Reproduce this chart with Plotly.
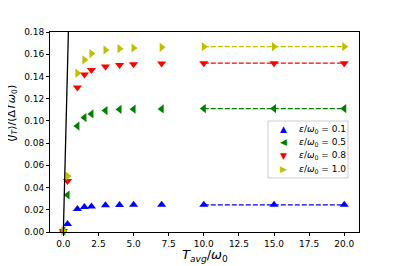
import plotly.graph_objects as go

# data
x_short = [0, 0.3, 1, 1.5, 2, 3, 4, 5, 7]
x_long = [10, 15, 20]
eps_labels = ["0.1", "0.5", "0.8", "1.0"]
y_short_01 = [0.001, 0.0072, 0.0207, 0.0225, 0.023, 0.024, 0.0243, 0.0245, 0.0245]
y_short_05 = [0.001, 0.0333, 0.0953, 0.103, 0.1063, 0.1093, 0.1103, 0.1105, 0.1108]
y_short_08 = [0.001, 0.046, 0.130, 0.1417, 0.1459, 0.149, 0.1503, 0.151, 0.1516]
y_short_10 = [0.001, 0.0503, 0.1429, 0.155, 0.1606, 0.1638, 0.165, 0.1656, 0.1662]
y_long_01 = [0.0245, 0.0245, 0.0245]
y_long_05 = [0.1111, 0.1111, 0.1111]
y_long_08 = [0.1519, 0.1519, 0.1519]
y_long_10 = [0.1668, 0.1668, 0.1668]
line_x = [0, 0.4]
line_y = [0, 0.2]
x_ticks = [0, 2.5, 5, 7.5, 10, 12.5, 15, 17.5, 20]
y_ticks = [0, 0.02, 0.04, 0.06, 0.08, 0.10, 0.12, 0.14, 0.16, 0.18]

colors = ["#0000ff", "#008000", "#ff0000", "#bfbf00"]
symbols = ["triangle-up", "triangle-left", "triangle-down", "triangle-right"]
glyphs = ["▲", "◀", "▼", "▶"]
shorts = [y_short_01, y_short_05, y_short_08, y_short_10]
longs = [y_long_01, y_long_05, y_long_08, y_long_10]

fig = go.Figure()
for lab, c, s, ys, yl in zip(eps_labels, colors, symbols, shorts, longs):
    fig.add_trace(go.Scatter(
        x=x_short, y=ys, mode="markers",
        marker=dict(symbol=s, color=c, size=8, line=dict(width=0)),
        showlegend=False, cliponaxis=False,
    ))
    fig.add_trace(go.Scatter(
        x=x_long, y=yl, mode="lines+markers",
        marker=dict(symbol=s, color=c, size=8, line=dict(width=0)),
        line=dict(color=c, width=1.3, dash="5px,2px"),
        showlegend=False, cliponaxis=False,
    ))

fig.add_trace(go.Scatter(x=line_x, y=line_y, mode="lines",
                         line=dict(color="black", width=1.3), showlegend=False))

# page is offset by the default 8px body margin
OFF = 8
W, H = 399 - OFF, 266 - OFF
# desired plot area in page pixels: x 50..359, y 32..232
L, R, T, B = 50 - OFF, 40, 32 - OFF, 34
pw, ph = W - L - R, H - T - B


def px(x):
    return (x - OFF - L) / pw


def py(y):
    return (H - B - (y - OFF)) / ph


annotations = [
    dict(text="<i>T</i><sub><i>avg</i></sub>/<i>ω</i><sub>0</sub>",
         x=0.5, y=py(255), xref="paper", yref="paper",
         xanchor="center", yanchor="middle", showarrow=False,
         font=dict(size=13)),
    dict(text="⟨<i>J</i><sub><i>T</i></sub>⟩/(Δ<i>Tω</i><sub>0</sub>)",
         x=px(12), y=py(114), xref="paper", yref="paper",
         xanchor="center", yanchor="middle", showarrow=False,
         textangle=-90, font=dict(size=11)),
]
shapes = [dict(type="rect", xref="paper", yref="paper",
               x0=px(268), x1=px(348), y0=py(178), y1=py(121),
               line=dict(color="#cccccc", width=1), fillcolor="white",
               layer="above")]
row_y = [129, 142, 155.5, 169]
for lab, c, g, ry in zip(eps_labels, colors, glyphs, row_y):
    annotations.append(dict(text=g, x=px(283), y=py(ry), xref="paper", yref="paper",
                            xanchor="center", yanchor="middle", showarrow=False,
                            font=dict(size=9, color=c)))
    annotations.append(dict(text="<i>ε</i>/<i>ω</i><sub>0</sub> = " + lab,
                            x=px(297), y=py(ry), xref="paper", yref="paper",
                            xanchor="left", yanchor="middle", showarrow=False,
                            font=dict(size=9)))

fig.update_layout(
    width=W, height=H,
    margin=dict(l=L, r=R, t=T, b=B),
    paper_bgcolor="white", plot_bgcolor="white",
    font=dict(family="DejaVu Sans", size=9, color="black"),
    showlegend=False,
    annotations=annotations, shapes=shapes,
)
fig.update_xaxes(
    range=[-0.95, 21.05], tickvals=x_ticks,
    ticktext=[f"{v:.1f}" for v in x_ticks],
    showgrid=False, zeroline=False, showline=True, linecolor="black",
    linewidth=1, mirror=True, ticks="outside", ticklen=3, tickcolor="black",
    automargin=False,
)
fig.update_yaxes(
    range=[0, 0.18], tickvals=y_ticks,
    ticktext=[f"{v:.2f}" for v in y_ticks],
    showgrid=False, zeroline=False, showline=True, linecolor="black",
    linewidth=1, mirror=True, ticks="outside", ticklen=3, tickcolor="black",
    automargin=False,
)

fig.write_html("out.html")
